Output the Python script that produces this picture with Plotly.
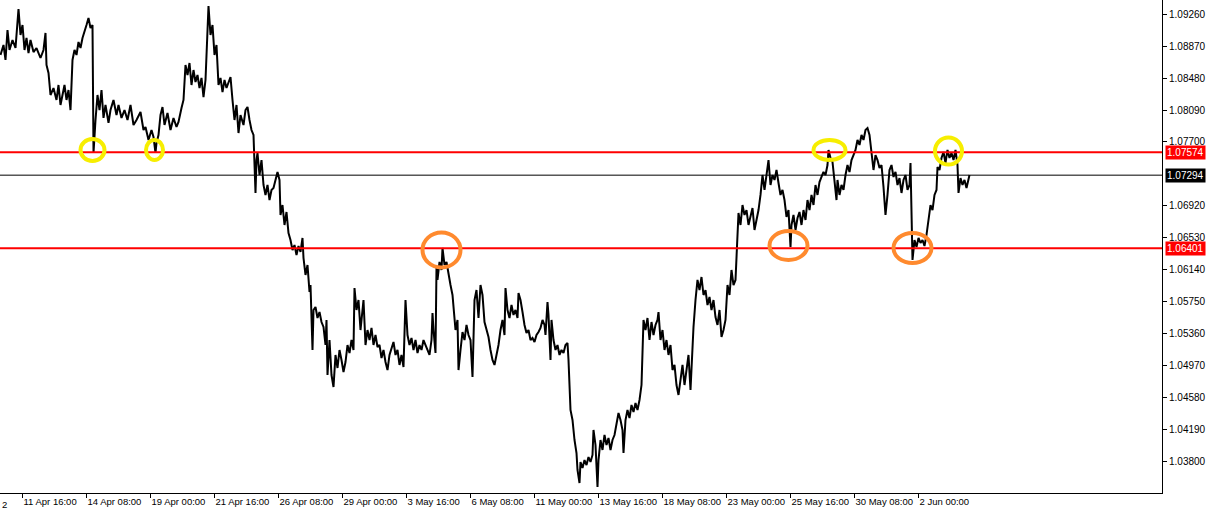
import plotly.graph_objects as go

# ---------------- data (EURUSD H1) ----------------
bar_index = [
    0, 3, 5, 7, 9, 12, 15, 17, 18, 20, 22, 24, 26, 28, 30, 33, 36, 40, 43, 45,
    46, 48, 50, 53, 56, 58, 60, 62, 64, 66, 68, 70, 72, 74, 76, 78, 80, 82, 84, 86,
    88, 90, 92, 93, 95, 97, 99, 101, 103, 105, 108, 110, 113, 116, 118, 121, 124, 127, 130, 133,
    136, 140, 143, 145, 148, 151, 153, 155, 156, 158, 160, 162, 164, 167, 170, 173, 176, 178, 181, 183,
    185, 187, 189, 191, 193, 195, 197, 199, 201, 203, 205, 207, 208, 210, 212, 214, 216, 218, 220, 222,
    224, 226, 228, 230, 232, 234, 236, 238, 240, 243, 245, 247, 249, 251, 253, 255, 256, 257, 259, 261,
    263, 265, 267, 269, 271, 273, 275, 277, 279, 280, 282, 284, 286, 288, 290, 292, 294, 296, 298, 300,
    302, 303, 305, 307, 309, 310, 312, 313, 315, 317, 319, 321, 323, 325, 326, 327, 329, 331, 333, 335,
    337, 339, 341, 343, 345, 347, 349, 351, 353, 354, 356, 358, 360, 362, 363, 365, 367, 369, 371, 373,
    375, 377, 379, 381, 383, 385, 387, 389, 391, 393, 395, 397, 399, 401, 403, 405, 407, 409, 411, 413,
    415, 417, 419, 421, 423, 425, 427, 429, 431, 432, 433, 435, 436, 437, 439, 441, 442, 444, 446, 448,
    450, 452, 453, 455, 457, 458, 460, 462, 464, 466, 468, 470, 472, 474, 476, 478, 480, 482, 484, 486,
    488, 490, 492, 494, 496, 498, 500, 502, 504, 505, 507, 509, 511, 513, 515, 517, 518, 520, 522, 524,
    526, 528, 530, 532, 534, 536, 538, 540, 542, 544, 545, 547, 548, 550, 551, 553, 555, 557, 559, 561,
    563, 565, 567, 568, 570, 572, 574, 576, 577, 579, 580, 582, 584, 586, 588, 590, 592, 593, 595, 597,
    598, 600, 602, 604, 606, 608, 610, 612, 614, 616, 618, 620, 622, 623, 625, 627, 629, 631, 633, 635,
    637, 639, 641, 643, 645, 647, 649, 651, 653, 655, 657, 658, 660, 662, 664, 666, 668, 670, 672, 674,
    676, 678, 680, 682, 684, 686, 688, 690, 692, 693, 695, 697, 699, 701, 703, 705, 707, 709, 711, 713,
    715, 717, 719, 721, 723, 725, 727, 729, 731, 733, 735, 737, 738, 740, 742, 744, 746, 748, 750, 752,
    754, 756, 758, 760, 762, 764, 766, 768, 770, 772, 774, 776, 778, 780, 782, 784, 786, 788, 790, 791,
    793, 795, 797, 799, 801, 803, 805, 807, 809, 811, 813, 815, 817, 819, 821, 823, 825, 827, 828, 830,
    832, 834, 836, 837, 839, 841, 843, 845, 847, 849, 851, 853, 855, 857, 859, 861, 863, 865, 867, 869,
    871, 873, 875, 877, 879, 881, 883, 885, 887, 889, 891, 893, 895, 897, 899, 901, 903, 905, 907, 909,
    910, 912, 914, 916, 918, 920, 922, 924, 926, 928, 930, 932, 934, 936, 937, 939, 941, 943, 945, 947,
    949, 951, 953, 955, 957, 958, 960, 962, 964, 966, 968, 969,
]

price = [
    1.08763, 1.08885, 1.08702, 1.09068, 1.08824, 1.08946, 1.08848, 1.09191, 1.09325, 1.09007,
    1.09129, 1.08824, 1.08971, 1.08787, 1.08946, 1.08799, 1.08848, 1.08726, 1.08824, 1.09032,
    1.08641, 1.08543, 1.08274, 1.08359, 1.08213, 1.08396, 1.08152, 1.08274, 1.08396, 1.08213,
    1.08335, 1.08090, 1.08702, 1.08824, 1.08763, 1.08922, 1.08848, 1.08971, 1.09068, 1.09129,
    1.09215, 1.09093, 1.09129, 1.07565, 1.07968, 1.08274, 1.08090, 1.08335, 1.07993, 1.08152,
    1.07932, 1.08090, 1.08213, 1.08029, 1.08152, 1.07993, 1.08090, 1.07968, 1.08152, 1.07907,
    1.07968, 1.08066, 1.07846, 1.07883, 1.07724, 1.07846, 1.07760, 1.07565, 1.07687, 1.07785,
    1.08029, 1.08127, 1.07907, 1.08054, 1.07846, 1.07993, 1.07883, 1.07944, 1.08115, 1.08213,
    1.08641, 1.08518, 1.08665, 1.08396, 1.08579, 1.08433, 1.08518, 1.08359, 1.08482, 1.08249,
    1.08457, 1.09068, 1.09362, 1.09007, 1.09129, 1.08763, 1.08885, 1.08396, 1.08482, 1.08310,
    1.08457, 1.08359, 1.08433, 1.08494, 1.08213, 1.07968, 1.08152, 1.07809, 1.08029, 1.07907,
    1.08090, 1.08127, 1.07968, 1.07846, 1.07785, 1.07076, 1.07479, 1.07565, 1.07296, 1.07479,
    1.07174, 1.07052, 1.07174, 1.06990, 1.07113, 1.07137, 1.07235, 1.07333, 1.07235, 1.06807,
    1.06929, 1.06685, 1.06844, 1.06587, 1.06501, 1.06379, 1.06440, 1.06318, 1.06428, 1.06355,
    1.06526, 1.06281, 1.06074, 1.06196, 1.05866, 1.05951, 1.05157, 1.05646, 1.05683, 1.05548,
    1.05621, 1.05499, 1.05438, 1.05218, 1.05524, 1.04851, 1.05279, 1.04851, 1.04705, 1.05096,
    1.04937, 1.05157, 1.05035, 1.04888, 1.05010, 1.05218, 1.05120, 1.05279, 1.05157, 1.05915,
    1.05646, 1.05768, 1.05401, 1.05707, 1.05768, 1.05218, 1.05401, 1.05279, 1.05426, 1.05218,
    1.05340, 1.05194, 1.05218, 1.05059, 1.05157, 1.05010, 1.04912, 1.05096, 1.05181, 1.05255,
    1.05096, 1.05157, 1.04974, 1.05096, 1.04949, 1.05768, 1.05340, 1.05218, 1.05304, 1.05157,
    1.05279, 1.05120, 1.05218, 1.05157, 1.05279, 1.05218, 1.05181, 1.05096, 1.05279, 1.05609,
    1.05401, 1.05120, 1.06171, 1.06013, 1.06233, 1.06135, 1.06404, 1.06196, 1.06233, 1.06074,
    1.05951, 1.05829, 1.05646, 1.05401, 1.05524, 1.04912, 1.05157, 1.05377, 1.05279, 1.05463,
    1.05340, 1.05279, 1.04827, 1.05768, 1.05890, 1.05548, 1.05951, 1.05829, 1.05499, 1.05401,
    1.05316, 1.05157, 1.05035, 1.04974, 1.05096, 1.05218, 1.05401, 1.05524, 1.05340, 1.05915,
    1.05646, 1.05548, 1.05707, 1.05585, 1.05646, 1.05548, 1.05854, 1.05768, 1.05621, 1.05463,
    1.05365, 1.05401, 1.05279, 1.05304, 1.05255, 1.05340, 1.05377, 1.05426, 1.05524, 1.05463,
    1.05340, 1.05744, 1.05585, 1.05035, 1.05524, 1.05279, 1.05157, 1.05218, 1.05096, 1.05157,
    1.05120, 1.05218, 1.05243, 1.05035, 1.04424, 1.04301, 1.04057, 1.03898, 1.03690, 1.03531,
    1.03788, 1.03715, 1.03812, 1.03751, 1.03849, 1.03788, 1.03874, 1.04179, 1.03996, 1.03482,
    1.03812, 1.04057, 1.03935, 1.04118, 1.03996, 1.04081, 1.03935, 1.04057, 1.04118, 1.04240,
    1.04387, 1.04301, 1.04179, 1.03898, 1.04301, 1.04424, 1.04326, 1.04485, 1.04399, 1.04509,
    1.04424, 1.04546, 1.04729, 1.05524, 1.05401, 1.05548, 1.05279, 1.05499, 1.05340, 1.05463,
    1.05524, 1.05621, 1.05279, 1.05401, 1.05157, 1.05279, 1.05096, 1.05218, 1.04912, 1.04974,
    1.04729, 1.04607, 1.04790, 1.04974, 1.04729, 1.04912, 1.05096, 1.04668, 1.05279, 1.05438,
    1.05768, 1.06013, 1.05890, 1.06049, 1.05829, 1.05890, 1.05707, 1.05805, 1.05646, 1.05768,
    1.05560, 1.05463, 1.05646, 1.05316, 1.05401, 1.05524, 1.05951, 1.05829, 1.06135, 1.05951,
    1.06013, 1.06501, 1.06832, 1.06685, 1.06929, 1.06807, 1.06868, 1.06685, 1.06807, 1.06893,
    1.06624, 1.06746, 1.06868, 1.07052, 1.07296, 1.07113, 1.07296, 1.07479, 1.07174, 1.07296,
    1.07235, 1.07357, 1.07198, 1.07052, 1.07113, 1.06990, 1.06783, 1.06868, 1.06416, 1.06685,
    1.06807, 1.06624, 1.06770, 1.06844, 1.06685, 1.06868, 1.06746, 1.06990, 1.06868, 1.07052,
    1.06929, 1.07174, 1.07052, 1.07210, 1.07272, 1.07333, 1.07296, 1.07418, 1.07602, 1.07504,
    1.07455, 1.07235, 1.06990, 1.07235, 1.07052, 1.07174, 1.07113, 1.07296, 1.07418, 1.07333,
    1.07479, 1.07540, 1.07602, 1.07724, 1.07663, 1.07785, 1.07724, 1.07846, 1.07870, 1.07785,
    1.07540, 1.07357, 1.07540, 1.07479, 1.07382, 1.07418, 1.07149, 1.06807, 1.07052, 1.07357,
    1.07418, 1.07272, 1.07333, 1.07174, 1.07259, 1.07076, 1.07235, 1.07296, 1.07113, 1.07174,
    1.07443, 1.06257, 1.06501, 1.06416, 1.06526, 1.06465, 1.06501, 1.06428, 1.06563, 1.06783,
    1.06929, 1.06868, 1.07052, 1.07113, 1.07394, 1.07357, 1.07504, 1.07577, 1.07443, 1.07602,
    1.07504, 1.07565, 1.07479, 1.07602, 1.07418, 1.07076, 1.07259, 1.07174, 1.07235, 1.07137,
    1.07235, 1.07296,
]

x_tick_bars = [22, 86, 150, 214, 278, 342, 406, 470, 534, 598, 662, 726, 790, 854, 918]
x_tick_labels = [
    "11 Apr 16:00", "14 Apr 08:00", "19 Apr 00:00", "21 Apr 16:00", "26 Apr 08:00",
    "29 Apr 00:00", "3 May 16:00", "6 May 08:00", "11 May 00:00", "13 May 16:00",
    "18 May 08:00", "23 May 00:00", "25 May 16:00", "30 May 08:00", "2 Jun 00:00",
]
y_tick_values = [1.03800, 1.04190, 1.04580, 1.04970, 1.05360, 1.05750, 1.06140,
                 1.06530, 1.06920, 1.07700, 1.08090, 1.08480, 1.08870, 1.09260]

resistance_level = 1.07574
support_level = 1.06401
last_price = 1.07294

# touches of the levels (bar index, price)
resistance_touch_bars = [92, 154, 829, 948]
resistance_touch_prices = [1.07602, 1.07602, 1.07602, 1.07589]
support_touch_bars = [441, 788, 912]
support_touch_prices = [1.06379, 1.06434, 1.06404]

# ---------------- figure ----------------
FONT = "Liberation Sans"
fig = go.Figure()

fig.add_trace(go.Scatter(
    x=bar_index, y=price, mode="lines",
    line=dict(color="black", width=2), hoverinfo="skip", showlegend=False,
))

X_MIN, X_MAX = -0.5, 1161.5
Y_MIN, Y_MAX = 1.03409, 1.09435

shapes = []
for lvl, col, w in [(resistance_level, "#FF0000", 2), (support_level, "#FF0000", 2),
                    (last_price, "black", 1)]:
    shapes.append(dict(type="line", xref="paper", yref="y", x0=0, x1=1, y0=lvl, y1=lvl,
                       line=dict(color=col, width=w), layer="above"))

res_sizes = [(12, 11), (8.5, 10), (16, 10), (13.5, 13.5)]
for b, p, (rx, ry) in zip(resistance_touch_bars, resistance_touch_prices, res_sizes):
    shapes.append(dict(type="circle", xref="x", yref="y", xsizemode="pixel", ysizemode="pixel",
                       xanchor=b, yanchor=p, x0=-rx, x1=rx, y0=-ry, y1=ry,
                       line=dict(color="#F7EE00", width=4), layer="above"))
sup_sizes = [(19, 17.5), (19, 14.5), (19, 15)]
for b, p, (rx, ry) in zip(support_touch_bars, support_touch_prices, sup_sizes):
    shapes.append(dict(type="circle", xref="x", yref="y", xsizemode="pixel", ysizemode="pixel",
                       xanchor=b, yanchor=p, x0=-rx, x1=rx, y0=-ry, y1=ry,
                       line=dict(color="#FF8A2E", width=4), layer="above"))

annotations = []
for lvl, bg in [(resistance_level, "#FF0000"), (support_level, "#FF0000"), (last_price, "black")]:
    annotations.append(dict(xref="paper", yref="y", x=1, y=lvl, xanchor="left", yanchor="middle",
                            xshift=3, text=f"{lvl:.5f}", showarrow=False,
                            bgcolor=bg, borderpad=1,
                            font=dict(family=FONT, size=10, color="white")))
annotations.append(dict(xref="paper", yref="paper", x=0, y=0, xanchor="left", yanchor="top",
                        yshift=-4, text="2", showarrow=False,
                        font=dict(family=FONT, size=9.5, color="black")))

fig.update_layout(
    width=1210, height=511,
    margin=dict(l=0, r=48, t=0, b=18, pad=0, autoexpand=False),
    paper_bgcolor="white", plot_bgcolor="white",
    showlegend=False,
    font=dict(family=FONT, size=10, color="black"),
    shapes=shapes, annotations=annotations,
    xaxis=dict(range=[X_MIN, X_MAX], tickmode="array", tickvals=x_tick_bars,
               ticktext=x_tick_labels, ticks="outside", ticklen=4, tickcolor="black",
               tickangle=0, automargin=False,
               ticklabelposition="outside right", showgrid=False, zeroline=False,
               showline=True, linecolor="black", linewidth=1,
               tickfont=dict(family=FONT, size=9.5, color="black")),
    yaxis=dict(range=[Y_MIN, Y_MAX], side="right", tickmode="array", tickvals=y_tick_values,
               tickformat=".5f", ticks="outside", ticklen=4, tickcolor="black",
               automargin=False,
               showgrid=False, zeroline=False, showline=True, linecolor="black", linewidth=1,
               tickfont=dict(family=FONT, size=10, color="black")),
)

fig.write_html("out.html", config={"displayModeBar": False},
               post_script="document.body.style.margin='0';")
